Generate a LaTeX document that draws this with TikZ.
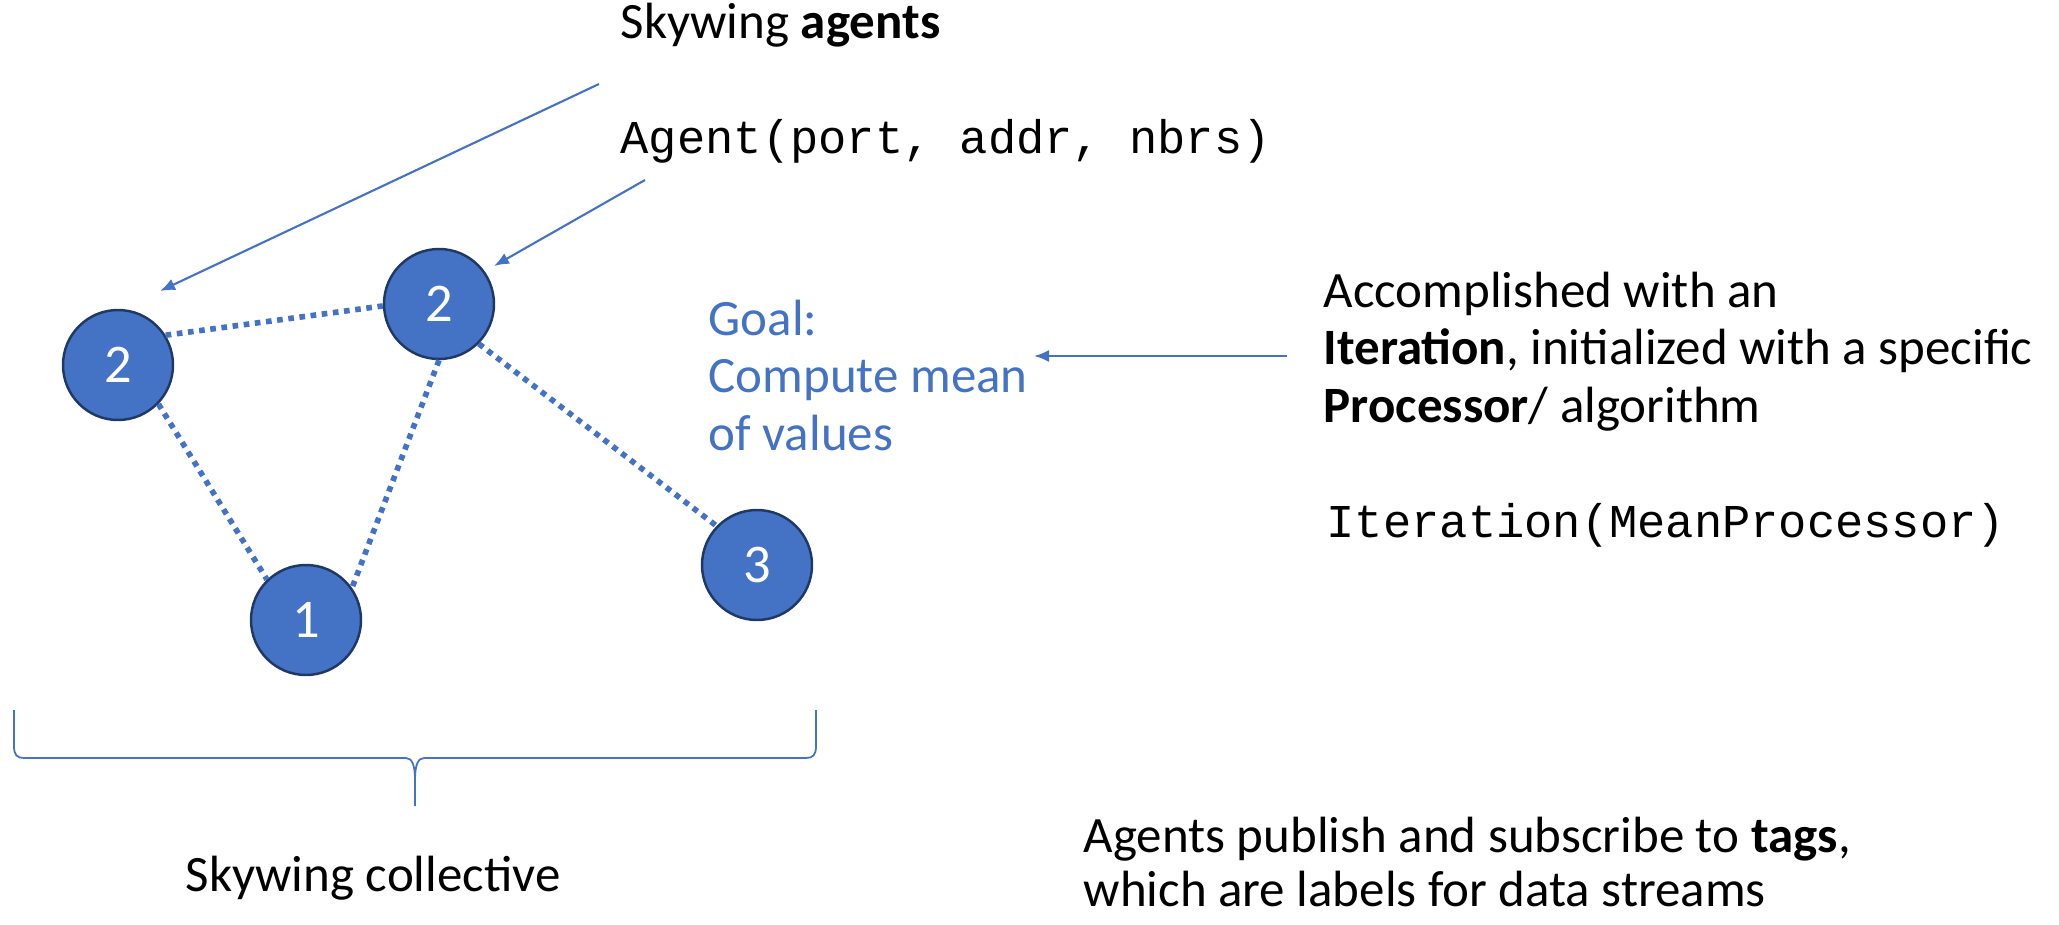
\documentclass[tikz,border=0pt]{standalone}
\usepackage{fontspec}
\setmainfont{Carlito}
\newfontfamily\codefont{Liberation Mono}
\usetikzlibrary{arrows.meta}
\definecolor{accent}{HTML}{4472C4}
\definecolor{rim}{HTML}{1F3864}
\newcommand\linesblock[1]{\vtop{\halign{##\hfil\cr #1\crcr}}}
\begin{document}
\begin{tikzpicture}[
  txt/.style={inner sep=0pt, anchor=base west, font=\fontsize{14.5}{16.5}\selectfont},
  code/.style={inner sep=0pt, anchor=base west, font=\codefont\fontsize{13.4}{16.5}\selectfont},
  agent/.style={circle, minimum size=1.10cm, inner sep=0pt, fill=accent, draw=rim, line width=0.7pt, text=white, font=\fontsize{15.5}{16.5}\selectfont},
  link/.style={draw=accent, line width=1.6pt, dash pattern=on 1.6pt off 1.6pt},
  pointer/.style={draw=accent, line width=0.6pt, -{Latex[length=0.15cm, width=0.12cm]}},
  bracket/.style={draw=accent, line width=0.5pt}
]
\useasboundingbox (0,0) rectangle (20.59,-9.24);

% agents
\node[agent] (A) at (1.18,-3.65) {2};
\node[agent] (B) at (4.39,-3.04) {2};
\node[agent] (C) at (3.06,-6.20) {1};
\node[agent] (D) at (7.57,-5.65) {3};

% links
\draw[link] (A.32) -- (B.182);
\draw[link] (A.-44) -- (C.134);
\draw[link] (B.-90) -- (C.35);
\draw[link] (B.-45) -- (D.136);

% texts
\node[txt] (title) at (6.20,-0.39) {Skywing \textbf{agents}};
\node[code] (ctor) at (6.20,-1.54) {Agent(port, addr, nbrs)};
\node[txt, text=accent] (goal) at (7.08,-3.35) {\linesblock{Goal:\cr Compute mean\cr of values}};
\node[txt] (iter) at (13.23,-3.07) {\linesblock{Accomplished with an\cr \textbf{Iteration}, initialized with a specific\cr \textbf{Processor}/ algorithm}};
\node[code] (icode) at (13.26,-5.37) {Iteration(MeanProcessor)};
\node[txt] (coll) at (1.85,-8.91) {Skywing collective};
\node[txt, font=\fontsize{14.5}{15.4}\selectfont] (tags) at (10.83,-8.52) {\linesblock{Agents publish and subscribe to \textbf{tags},\cr which are labels for data streams}};

% pointers
\coordinate (p1s) at (5.99,-0.84);
\coordinate (p1e) at (1.60,-2.91);
\coordinate (p2s) at (6.45,-1.80);
\coordinate (p2e) at (4.94,-2.66);
\coordinate (p3s) at (12.87,-3.56);
\coordinate (p3e) at (10.34,-3.56);
\draw[pointer] (p1s) -- (p1e);
\draw[pointer] (p2s) -- (p2e);
\draw[pointer] (p3s) -- (p3e);

% brace
\draw[bracket] (0.14,-7.10) -- (0.14,-7.46) .. controls (0.14,-7.55) and (0.17,-7.58) .. (0.24,-7.58)
  -- (4.06,-7.58) .. controls (4.12,-7.58) and (4.15,-7.65) .. (4.15,-7.80) -- (4.15,-8.06);
\draw[bracket] (8.16,-7.10) -- (8.16,-7.46) .. controls (8.16,-7.55) and (8.13,-7.58) .. (8.06,-7.58)
  -- (4.24,-7.58) .. controls (4.18,-7.58) and (4.15,-7.65) .. (4.15,-7.80);
\end{tikzpicture}
\end{document}
